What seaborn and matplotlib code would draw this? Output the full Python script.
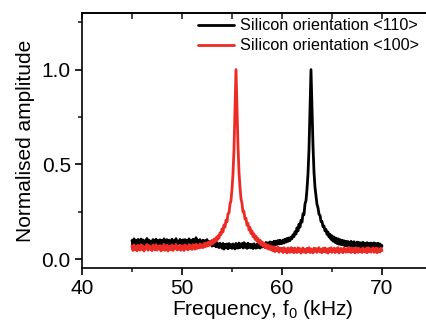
import numpy as np
import pandas as pd
import seaborn as sns
import matplotlib.pyplot as plt
from matplotlib.ticker import MultipleLocator

# frequency grid of the sweep (kHz), 0.1 kHz steps from 45 to 70
freq = np.round(np.linspace(45.0, 70.0, 251), 1)

# normalised amplitude, <110> wafer
amp_110 = [
    0.100, 0.076, 0.108, 0.082, 0.099, 0.074, 0.105, 0.086, 0.078, 0.107,
    0.080, 0.102, 0.074, 0.098, 0.088, 0.110, 0.076, 0.101, 0.084, 0.096,
    0.072, 0.104, 0.090, 0.079, 0.106, 0.077, 0.099, 0.085, 0.103, 0.075,
    0.100, 0.082, 0.108, 0.078, 0.095, 0.104, 0.073, 0.101, 0.088, 0.080,
    0.106, 0.076, 0.097, 0.084, 0.109, 0.078, 0.094, 0.082, 0.105, 0.077,
    0.096, 0.103, 0.078, 0.104, 0.085, 0.100, 0.080, 0.108, 0.087, 0.099,
    0.080, 0.106, 0.089, 0.078, 0.114, 0.084, 0.101, 0.083, 0.104, 0.088,
    0.079, 0.101, 0.074, 0.098, 0.081, 0.104, 0.073, 0.095, 0.078, 0.092,
    0.070, 0.092, 0.073, 0.089, 0.066, 0.088, 0.071, 0.062, 0.085, 0.068,
    0.059, 0.084, 0.054, 0.079, 0.062, 0.081, 0.056, 0.083, 0.061, 0.077,
    0.058, 0.081, 0.063, 0.055, 0.084, 0.064, 0.059, 0.086, 0.062, 0.079,
    0.083, 0.060, 0.088, 0.064, 0.081, 0.058, 0.085, 0.063, 0.080, 0.061,
    0.078, 0.057, 0.082, 0.062, 0.059, 0.080, 0.063, 0.084, 0.060, 0.081,
    0.065, 0.086, 0.068, 0.063, 0.089, 0.070, 0.087, 0.067, 0.092, 0.072,
    0.090, 0.073, 0.095, 0.076, 0.096, 0.079, 0.099, 0.081, 0.101, 0.083,
    0.084, 0.102, 0.086, 0.106, 0.091, 0.110, 0.095, 0.113, 0.099, 0.117,
    0.109, 0.130, 0.120, 0.146, 0.134, 0.166, 0.150, 0.186, 0.170, 0.206,
    0.196, 0.240, 0.236, 0.292, 0.310, 0.370, 0.450, 0.580, 0.780, 1.000,
    0.800, 0.600, 0.460, 0.380, 0.335, 0.290, 0.272, 0.238, 0.232, 0.200,
    0.200, 0.172, 0.176, 0.150, 0.158, 0.132, 0.144, 0.118, 0.132, 0.106,
    0.124, 0.096, 0.118, 0.090, 0.112, 0.084, 0.108, 0.080, 0.104, 0.078,
    0.101, 0.076, 0.098, 0.071, 0.095, 0.072, 0.094, 0.078, 0.068, 0.095,
    0.088, 0.068, 0.093, 0.074, 0.064, 0.091, 0.070, 0.089, 0.062, 0.087,
    0.068, 0.090, 0.062, 0.085, 0.067, 0.088, 0.060, 0.084, 0.065, 0.086,
    0.082, 0.060, 0.087, 0.064, 0.083, 0.058, 0.085, 0.063, 0.081, 0.062,
    0.073,
]

# normalised amplitude, <100> wafer
amp_100 = [
    0.070, 0.047, 0.076, 0.052, 0.068, 0.045, 0.074, 0.058, 0.049, 0.077,
    0.053, 0.071, 0.044, 0.066, 0.057, 0.078, 0.048, 0.072, 0.054, 0.065,
    0.046, 0.075, 0.060, 0.050, 0.077, 0.049, 0.069, 0.055, 0.073, 0.045,
    0.067, 0.052, 0.079, 0.048, 0.063, 0.074, 0.044, 0.070, 0.059, 0.051,
    0.076, 0.047, 0.066, 0.056, 0.079, 0.050, 0.064, 0.053, 0.075, 0.048,
    0.062, 0.072, 0.047, 0.076, 0.055, 0.068, 0.050, 0.078, 0.058, 0.070,
    0.052, 0.077, 0.063, 0.054, 0.080, 0.058, 0.072, 0.060, 0.081, 0.063,
    0.076, 0.062, 0.083, 0.066, 0.086, 0.070, 0.090, 0.074, 0.095, 0.079,
    0.100, 0.084, 0.106, 0.092, 0.114, 0.100, 0.124, 0.112, 0.140, 0.130,
    0.160, 0.145, 0.182, 0.170, 0.206, 0.198, 0.240, 0.245, 0.290, 0.310,
    0.370, 0.450, 0.580, 0.780, 1.000, 0.800, 0.600, 0.460, 0.380, 0.320,
    0.295, 0.250, 0.252, 0.212, 0.216, 0.180, 0.190, 0.155, 0.168, 0.136,
    0.150, 0.120, 0.134, 0.106, 0.122, 0.096, 0.110, 0.086, 0.101, 0.078,
    0.092, 0.070, 0.085, 0.063, 0.080, 0.058, 0.075, 0.054, 0.071, 0.050,
    0.067, 0.045, 0.066, 0.041, 0.061, 0.048, 0.064, 0.038, 0.059, 0.044,
    0.058, 0.036, 0.061, 0.041, 0.055, 0.034, 0.060, 0.043, 0.037, 0.062,
    0.039, 0.057, 0.035, 0.059, 0.044, 0.036, 0.061, 0.040, 0.056, 0.033,
    0.054, 0.060, 0.038, 0.052, 0.035, 0.058, 0.042, 0.061, 0.036, 0.055,
    0.040, 0.034, 0.059, 0.043, 0.057, 0.037, 0.054, 0.062, 0.039, 0.053,
    0.035, 0.058, 0.041, 0.060, 0.038, 0.055, 0.033, 0.057, 0.042, 0.061,
    0.037, 0.053, 0.059, 0.036, 0.056, 0.040, 0.062, 0.034, 0.051, 0.058,
    0.041, 0.035, 0.060, 0.054, 0.038, 0.057, 0.039, 0.063, 0.044, 0.036,
    0.059, 0.040, 0.055, 0.034, 0.061, 0.043, 0.037, 0.058, 0.041, 0.054,
    0.036, 0.060, 0.044, 0.039, 0.057, 0.035, 0.062, 0.040, 0.056, 0.038,
    0.054, 0.061, 0.037, 0.042, 0.059, 0.035, 0.057, 0.041, 0.039, 0.058,
    0.046,
]

labels = ["Silicon orientation <110>", "Silicon orientation <100>"]
colors = ["black", "#ee2a24"]

sns.set_theme(style="ticks")
plt.rcParams["font.family"] = ["Liberation Sans", "DejaVu Sans"]
plt.rcParams["mathtext.fontset"] = "custom"
plt.rcParams["mathtext.rm"] = "Liberation Sans"
plt.rcParams["mathtext.default"] = "regular"
plt.rcParams["text.color"] = "black"
plt.rcParams["axes.labelcolor"] = "black"

fig = plt.figure(figsize=(4.27, 3.22), dpi=100)
ax = fig.add_axes([0.192, 0.1668, 0.8197, 0.7938])

for amp, lab, col in zip([amp_110, amp_100], labels, colors):
    sns.lineplot(x=freq, y=amp, color=col, lw=2.0, label=lab, ax=ax,
                 estimator=None, sort=False)

ax.set_xlim(40, 75)
ax.set_ylim(-0.047, 1.3)
ax.xaxis.set_major_locator(MultipleLocator(10))
ax.xaxis.set_minor_locator(MultipleLocator(5))
ax.yaxis.set_major_locator(MultipleLocator(0.5))
ax.yaxis.set_minor_locator(MultipleLocator(0.25))
ax.tick_params(which="major", direction="out", length=5, width=1.2,
               labelsize=15, pad=3, colors="black")
ax.tick_params(which="minor", direction="out", length=3, width=1.2)

# mirrored axes, ticks only
top = ax.secondary_xaxis("top")
top.xaxis.set_major_locator(MultipleLocator(5))
top.tick_params(direction="in", length=4, width=1.2, labeltop=False)
right = ax.secondary_yaxis("right")
right.yaxis.set_major_locator(MultipleLocator(0.5))
right.tick_params(direction="in", length=4, width=1.2, labelright=False)

for sp in list(ax.spines.values()) + [top.spines["top"], right.spines["right"]]:
    sp.set_linewidth(1.2)
    sp.set_color("black")

ax.set_xlabel("Frequency, f$_0$ (kHz)", fontsize=15, labelpad=0)
ax.xaxis.set_label_coords(0.517, -0.118)
ax.set_ylabel("Normalised amplitude", fontsize=15, labelpad=5)

ax.legend(loc="upper right", bbox_to_anchor=(1.008, 0.978),
          bbox_transform=fig.transFigure, frameon=False, fontsize=11.7,
          handlelength=2.2, handletextpad=0.4, labelspacing=0.3,
          borderpad=0.2)

fig.savefig("out.png", dpi=100)
